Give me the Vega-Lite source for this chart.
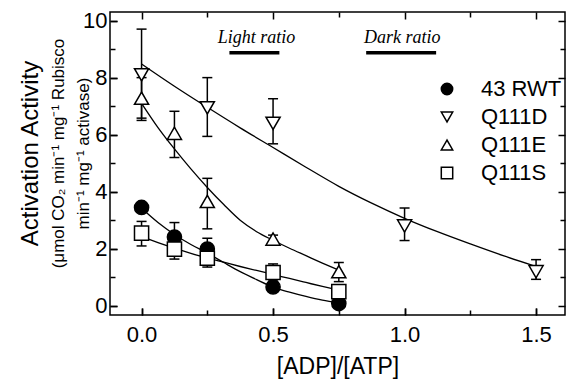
{
  "$schema": "https://vega.github.io/schema/vega-lite/v6.json",
  "width": 455,
  "height": 303,
  "autosize": {"type": "none"},
  "padding": {"left": 110, "top": 12, "right": 9, "bottom": 66},
  "background": "white",
  "title": {
    "text": "Activation Activity",
    "subtitle": ["(μmol CO₂ min⁻¹ mg⁻¹ Rubisco", "min⁻¹ mg⁻¹ activase)"],
    "orient": "left",
    "anchor": "middle",
    "font": "Liberation Sans",
    "fontSize": 24,
    "fontWeight": "normal",
    "color": "black",
    "subtitleFont": "Liberation Sans",
    "subtitleFontSize": 17,
    "subtitleColor": "black",
    "subtitlePadding": 8,
    "subtitleLineHeight": 25,
    "offset": -9,
    "dx": 10
  },
  "datasets": {
    "points": [
      {"series": "43 RWT", "x": 0, "y": 3.45},
      {"series": "43 RWT", "x": 0.125, "y": 2.41},
      {"series": "43 RWT", "x": 0.25, "y": 1.99},
      {"series": "43 RWT", "x": 0.5, "y": 0.66},
      {"series": "43 RWT", "x": 0.75, "y": 0.08},
      {"series": "Q111D", "x": 0, "y": 8.1},
      {"series": "Q111D", "x": 0.25, "y": 6.94},
      {"series": "Q111D", "x": 0.5, "y": 6.4},
      {"series": "Q111D", "x": 1.0, "y": 2.8},
      {"series": "Q111D", "x": 1.5, "y": 1.2},
      {"series": "Q111E", "x": 0, "y": 7.28},
      {"series": "Q111E", "x": 0.125, "y": 6.05},
      {"series": "Q111E", "x": 0.25, "y": 3.66},
      {"series": "Q111E", "x": 0.5, "y": 2.34},
      {"series": "Q111E", "x": 0.75, "y": 1.2},
      {"series": "Q111S", "x": 0, "y": 2.55},
      {"series": "Q111S", "x": 0.125, "y": 1.99},
      {"series": "Q111S", "x": 0.25, "y": 1.67},
      {"series": "Q111S", "x": 0.5, "y": 1.17},
      {"series": "Q111S", "x": 0.75, "y": 0.5}
    ],
    "errors": [
      {"series": "43 RWT", "x": 0.125, "lo": 2.0, "hi": 2.92},
      {"series": "43 RWT", "x": 0.25, "lo": 1.7, "hi": 2.37},
      {"series": "Q111D", "x": 0, "lo": 6.5, "hi": 9.7},
      {"series": "Q111D", "x": 0.25, "lo": 5.94, "hi": 8.0},
      {"series": "Q111D", "x": 0.5, "lo": 5.68, "hi": 7.26},
      {"series": "Q111D", "x": 1.0, "lo": 2.29, "hi": 3.43},
      {"series": "Q111D", "x": 1.5, "lo": 0.93, "hi": 1.62},
      {"series": "Q111E", "x": 0, "lo": 6.58, "hi": 8.0},
      {"series": "Q111E", "x": 0.125, "lo": 5.2, "hi": 6.82},
      {"series": "Q111E", "x": 0.25, "lo": 2.7, "hi": 4.47},
      {"series": "Q111E", "x": 0.5, "lo": 2.2, "hi": 2.48},
      {"series": "Q111E", "x": 0.75, "lo": 0.85, "hi": 1.52},
      {"series": "Q111S", "x": 0, "lo": 2.1, "hi": 2.96},
      {"series": "Q111S", "x": 0.125, "lo": 1.64, "hi": 2.3},
      {"series": "Q111S", "x": 0.25, "lo": 1.36, "hi": 1.97},
      {"series": "Q111S", "x": 0.5, "lo": 0.87, "hi": 1.47}
    ],
    "curves": [
      {"series": "Q111D", "x": 0, "y": 8.48},
      {"series": "Q111D", "x": 0.125, "y": 7.7},
      {"series": "Q111D", "x": 0.25, "y": 6.96},
      {"series": "Q111D", "x": 0.375, "y": 6.24},
      {"series": "Q111D", "x": 0.5, "y": 5.55},
      {"series": "Q111D", "x": 0.625, "y": 4.86},
      {"series": "Q111D", "x": 0.75, "y": 4.19},
      {"series": "Q111D", "x": 0.875, "y": 3.6},
      {"series": "Q111D", "x": 1.0, "y": 3.07},
      {"series": "Q111D", "x": 1.125, "y": 2.6},
      {"series": "Q111D", "x": 1.25, "y": 2.17},
      {"series": "Q111D", "x": 1.375, "y": 1.76},
      {"series": "Q111D", "x": 1.5, "y": 1.38},
      {"series": "Q111E", "x": 0, "y": 7.1},
      {"series": "Q111E", "x": 0.0625, "y": 6.25},
      {"series": "Q111E", "x": 0.125, "y": 5.5},
      {"series": "Q111E", "x": 0.1875, "y": 4.8},
      {"series": "Q111E", "x": 0.25, "y": 4.15},
      {"series": "Q111E", "x": 0.3125, "y": 3.55},
      {"series": "Q111E", "x": 0.375, "y": 3.0},
      {"series": "Q111E", "x": 0.4375, "y": 2.6},
      {"series": "Q111E", "x": 0.5, "y": 2.3},
      {"series": "Q111E", "x": 0.5625, "y": 2.02},
      {"series": "Q111E", "x": 0.625, "y": 1.76},
      {"series": "Q111E", "x": 0.6875, "y": 1.5},
      {"series": "Q111E", "x": 0.75, "y": 1.25},
      {"series": "43 RWT", "x": 0, "y": 3.42},
      {"series": "43 RWT", "x": 0.0625, "y": 2.92},
      {"series": "43 RWT", "x": 0.125, "y": 2.5},
      {"series": "43 RWT", "x": 0.1875, "y": 2.15},
      {"series": "43 RWT", "x": 0.25, "y": 1.85},
      {"series": "43 RWT", "x": 0.3125, "y": 1.52},
      {"series": "43 RWT", "x": 0.375, "y": 1.2},
      {"series": "43 RWT", "x": 0.4375, "y": 0.92},
      {"series": "43 RWT", "x": 0.5, "y": 0.66},
      {"series": "43 RWT", "x": 0.5625, "y": 0.48},
      {"series": "43 RWT", "x": 0.625, "y": 0.33},
      {"series": "43 RWT", "x": 0.6875, "y": 0.2},
      {"series": "43 RWT", "x": 0.75, "y": 0.1},
      {"series": "Q111S", "x": 0, "y": 2.43},
      {"series": "Q111S", "x": 0.0625, "y": 2.22},
      {"series": "Q111S", "x": 0.125, "y": 2.02},
      {"series": "Q111S", "x": 0.1875, "y": 1.84},
      {"series": "Q111S", "x": 0.25, "y": 1.68},
      {"series": "Q111S", "x": 0.3125, "y": 1.53},
      {"series": "Q111S", "x": 0.375, "y": 1.38},
      {"series": "Q111S", "x": 0.4375, "y": 1.24},
      {"series": "Q111S", "x": 0.5, "y": 1.1},
      {"series": "Q111S", "x": 0.5625, "y": 0.96},
      {"series": "Q111S", "x": 0.625, "y": 0.82},
      {"series": "Q111S", "x": 0.6875, "y": 0.68},
      {"series": "Q111S", "x": 0.75, "y": 0.55}
    ],
    "ratios": [
      {"label": "Light ratio", "from": 0.334, "to": 0.524, "center": 0.437},
      {"label": "Dark ratio", "from": 0.854, "to": 1.12, "center": 0.991}
    ]
  },
  "resolve": {"axis": {"x": "independent", "y": "independent"}},
  "layer": [
    {
      "data": {"name": "errors"},
      "mark": {"type": "rule", "stroke": "black", "strokeWidth": 1.5},
      "encoding": {
        "x": {
          "field": "x", "type": "quantitative",
          "scale": {"domain": [-0.12, 1.61], "nice": false, "zero": false},
          "axis": {
            "orient": "bottom",
            "title": "[ADP]/[ATP]",
            "values": [0, 0.5, 1, 1.5],
            "format": ".1f",
            "tickSize": -7, "tickColor": "black", "tickWidth": 1.5, "tickOpacity": 1, "zindex": 1,
            "labelPadding": 16,
            "titlePadding": 10
          }
        },
        "y": {
          "field": "lo", "type": "quantitative",
          "scale": {"domain": [-0.32, 10.3], "nice": false, "zero": false},
          "axis": {
            "orient": "left",
            "title": null,
            "values": [0, 2, 4, 6, 8, 10],
            "format": "d",
            "tickSize": -7, "tickColor": "black", "tickWidth": 1.5, "tickOpacity": 1, "zindex": 1,
            "labelPadding": 10
          }
        },
        "y2": {"field": "hi"}
      }
    },
    {
      "data": {"name": "errors"},
      "mark": {"type": "tick", "orient": "horizontal", "size": 10, "thickness": 1.5, "color": "black", "opacity": 1},
      "encoding": {
        "x": {
          "field": "x", "type": "quantitative",
          "scale": {"domain": [-0.12, 1.61], "nice": false, "zero": false},
          "axis": {"orient": "top", "title": null, "labels": false, "ticks": false, "domain": false, "values": [0, 0.5, 1, 1.5], "grid": true, "gridColor": "black", "gridWidth": 1.5, "gridOpacity": 1, "gridDash": [7, 289]}
        },
        "y": {
          "field": "lo", "type": "quantitative",
          "scale": {"domain": [-0.32, 10.3], "nice": false, "zero": false},
          "axis": {"orient": "right", "title": null, "labels": false, "ticks": false, "domain": false, "values": [0, 2, 4, 6, 8, 10], "grid": true, "gridColor": "black", "gridWidth": 1.5, "gridOpacity": 1, "gridDash": [7, 441]}
        }
      }
    },
    {
      "data": {"name": "errors"},
      "mark": {"type": "tick", "orient": "horizontal", "size": 10, "thickness": 1.5, "color": "black", "opacity": 1},
      "encoding": {
        "x": {
          "field": "x", "type": "quantitative",
          "scale": {"domain": [-0.12, 1.61], "nice": false, "zero": false},
          "axis": {"orient": "bottom", "title": null, "labels": false, "ticks": false, "domain": false, "values": [0.25, 0.75, 1.25], "grid": true, "gridColor": "black", "gridWidth": 1.5, "gridOpacity": 1, "gridDash": [5, 293]}
        },
        "y": {
          "field": "hi", "type": "quantitative",
          "scale": {"domain": [-0.32, 10.3], "nice": false, "zero": false},
          "axis": {"orient": "left", "title": null, "labels": false, "ticks": false, "domain": false, "values": [1, 3, 5, 7, 9], "grid": true, "gridColor": "black", "gridWidth": 1.5, "gridOpacity": 1, "gridDash": [5, 445]}
        }
      }
    },
    {
      "data": {"name": "curves"},
      "mark": {"type": "line", "interpolate": "monotone", "stroke": "black", "strokeWidth": 1.3},
      "encoding": {
        "x": {"field": "x", "type": "quantitative", "scale": {"domain": [-0.12, 1.61], "nice": false, "zero": false}, "axis": null},
        "y": {"field": "y", "type": "quantitative", "scale": {"domain": [-0.32, 10.3], "nice": false, "zero": false}, "axis": null},
        "detail": {"field": "series"}
      }
    },
    {
      "data": {"name": "points"},
      "mark": {"type": "point", "filled": true, "strokeWidth": 1.5, "opacity": 1, "size": 200},
      "encoding": {
        "x": {"field": "x", "type": "quantitative", "scale": {"domain": [-0.12, 1.61], "nice": false, "zero": false}, "axis": null},
        "y": {"field": "y", "type": "quantitative", "scale": {"domain": [-0.32, 10.3], "nice": false, "zero": false}, "axis": null},
        "shape": {
          "field": "series", "type": "nominal",
          "scale": {"domain": ["43 RWT", "Q111D", "Q111E", "Q111S"], "range": ["circle", "triangle-down", "triangle-up", "square"]},
          "legend": {
            "title": null, "orient": "none", "legendX": 326, "legendY": 66,
            "labelFont": "Liberation Sans", "labelFontSize": 22, "labelColor": "black",
            "symbolSize": 130, "symbolStrokeWidth": 1.5,
            "labelOffset": 23, "rowPadding": 6, "padding": 0
          }
        },
        "fill": {
          "field": "series", "type": "nominal",
          "scale": {"domain": ["43 RWT", "Q111D", "Q111E", "Q111S"], "range": ["black", "white", "white", "white"]},
          "legend": {
            "title": null, "orient": "none", "legendX": 326, "legendY": 66,
            "labelFont": "Liberation Sans", "labelFontSize": 22, "labelColor": "black",
            "symbolSize": 130, "symbolStrokeWidth": 1.5,
            "labelOffset": 23, "rowPadding": 6, "padding": 0
          }
        },
        "stroke": {
          "field": "series", "type": "nominal",
          "scale": {"domain": ["43 RWT", "Q111D", "Q111E", "Q111S"], "range": ["black", "black", "black", "black"]},
          "legend": {
            "title": null, "orient": "none", "legendX": 326, "legendY": 66,
            "labelFont": "Liberation Sans", "labelFontSize": 22, "labelColor": "black",
            "symbolSize": 130, "symbolStrokeWidth": 1.5,
            "labelOffset": 23, "rowPadding": 6, "padding": 0
          }
        }
      }
    },
    {
      "data": {"name": "ratios"},
      "mark": {"type": "rule", "stroke": "black", "strokeWidth": 3.5},
      "encoding": {
        "x": {"field": "from", "type": "quantitative", "scale": {"domain": [-0.12, 1.61], "nice": false, "zero": false}, "axis": null},
        "x2": {"field": "to"},
        "y": {"datum": 8.87, "type": "quantitative", "scale": {"domain": [-0.32, 10.3], "nice": false, "zero": false}, "axis": null}
      }
    },
    {
      "data": {"name": "ratios"},
      "mark": {"type": "text", "font": "Liberation Serif", "fontStyle": "italic", "fontSize": 18, "color": "black", "baseline": "middle", "align": "center"},
      "encoding": {
        "x": {"field": "center", "type": "quantitative", "scale": {"domain": [-0.12, 1.61], "nice": false, "zero": false}, "axis": null},
        "y": {"datum": 9.4, "type": "quantitative", "scale": {"domain": [-0.32, 10.3], "nice": false, "zero": false}, "axis": null},
        "text": {"field": "label"}
      }
    }
  ],
  "config": {
    "view": {"stroke": "black", "strokeWidth": 1.5},
    "font": "Liberation Sans",
    "axis": {
      "domain": false,
      "grid": false,
      "labelFont": "Liberation Sans",
      "labelFontSize": 22,
      "labelColor": "black",
      "titleFont": "Liberation Sans",
      "titleFontSize": 23,
      "titleFontWeight": "normal",
      "titleColor": "black"
    }
  }
}
